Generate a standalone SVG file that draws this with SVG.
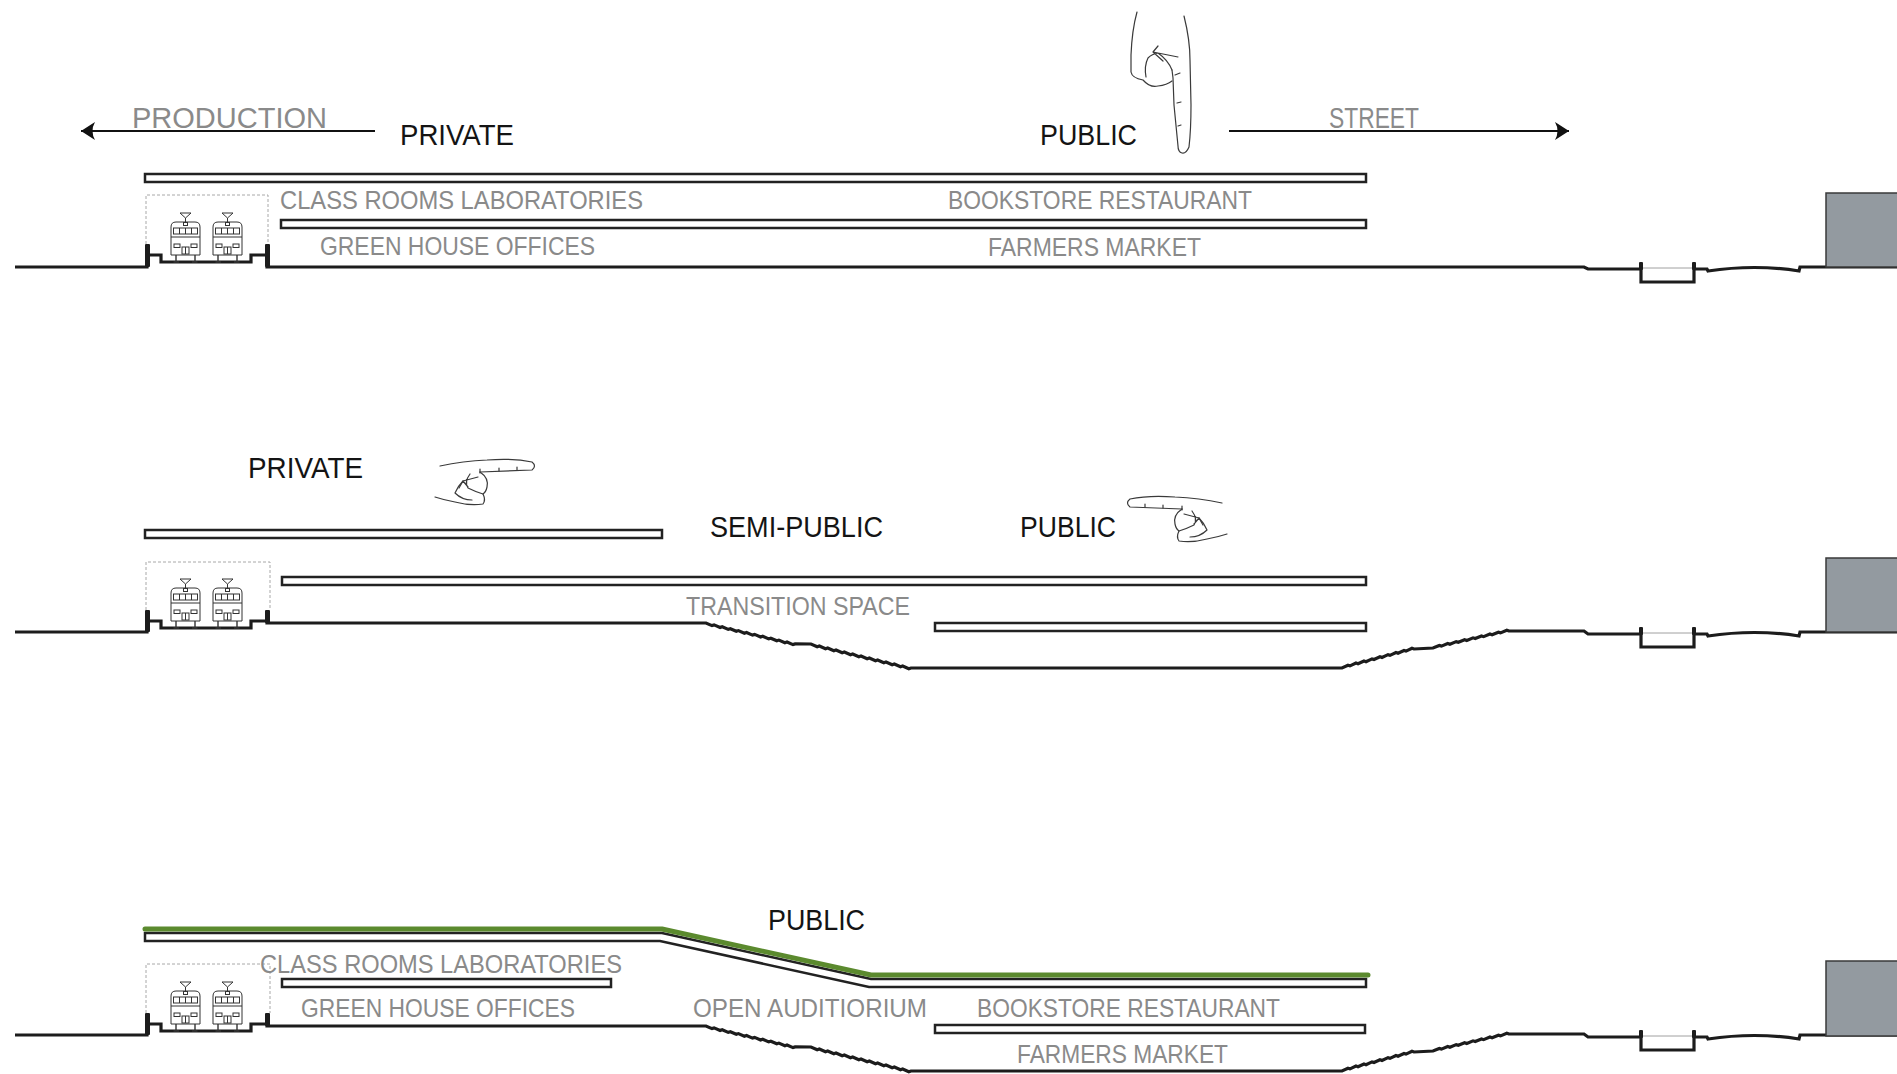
<svg xmlns="http://www.w3.org/2000/svg" xmlns:xlink="http://www.w3.org/1999/xlink" width="1897" height="1074" viewBox="0 0 1897 1074">
  <style>
    .lbl { font-family: "Liberation Sans", Arial, sans-serif; fill: #141414; font-size: 30px; }
    .sub { font-family: "Liberation Sans", Arial, sans-serif; fill: #8a8a8a; font-size: 25px; }
    .dir { font-family: "Liberation Sans", Arial, sans-serif; fill: #8a8a8a; font-size: 29px; }
    .slab { fill: #fff; stroke: #222; stroke-width: 2.5; stroke-linejoin: miter; }
    .ground { fill: none; stroke: #1c1c1c; stroke-width: 3.2; stroke-linejoin: miter; }
    .post { fill: #1c1c1c; }
    .dash { fill: none; stroke: #a8a8a8; stroke-width: 1; stroke-dasharray: 3 2; }
    .water { stroke: #a0a0a0; stroke-width: 1; }
    .bldg { fill: #939aa0; stroke: #3a3a3a; stroke-width: 1.5; }
    .hand { fill: none; stroke: #3a3a3a; stroke-width: 1.2; stroke-linecap: round; stroke-linejoin: round; }
    .roof { fill: none; stroke: #5b8a2e; stroke-width: 5; stroke-linecap: round; stroke-linejoin: round; }
    .arrow { stroke: #111; stroke-width: 2; fill: none; }
  </style>
  <defs>
    <marker id="head" viewBox="0 0 16 18" refX="15" refY="9" markerWidth="16" markerHeight="18" markerUnits="userSpaceOnUse" orient="auto">
      <path d="M15,9 L1,0 Q6,9 1,18 Z" fill="#111"/>
    </marker>
    <!-- tram seen from the front; origin = top-left of the car body -->
    <g id="train" stroke="#333" stroke-width="1" fill="#fff">
      <path d="M9,-9 H20 L14.5,-4 Z" fill="none"/>
      <path d="M14.5,-4 V0" fill="none"/>
      <path d="M0,33 V5 Q0,0 5,0 H24 Q29,0 29,5 V33 Z"/>
      <rect x="12.5" y="0.5" width="4" height="3"/>
      <rect x="2.5" y="6" width="24" height="6"/>
      <path d="M8.5,6 V12 M14.5,6 V12 M20.5,6 V12 M0,15 H29" fill="none"/>
      <rect x="3" y="22" width="6" height="3.5"/>
      <rect x="20" y="22" width="6" height="3.5"/>
      <rect x="11" y="25" width="7" height="7"/>
      <path d="M14.5,25 V32" fill="none"/>
      <path d="M5,33 V40 M24,33 V40 M2.5,40 H8 M21,40 H26.5" fill="none" stroke-width="1.4"/>
    </g>
    <!-- hand pointing to the right -->
    <g id="hand-right" class="hand">
      <path d="M440,466 Q463,461 487,460 Q513,458 532,462 Q537,466 532,470 L480,472"/>
      <path d="M480,469 L480,473 M499,468 L499,471 M517,467 L517,470"/>
      <path d="M480,472 Q489,478 487,487 Q486,492 483,494 Q486,500 483,504 Q470,506 455,502 Q444,500 435,497"/>
      <path d="M478,477 L463,481 L459,488 M463,481 L468,487 M470,474 Q464,482 468,488 Q476,492 483,494"/>
      <path d="M463,481 Q458,486 455,493 Q462,500 472,500"/>
    </g>
    <!-- ground profile with sunken auditorium steps (sections 2 and 3) -->
    <path id="terrain" class="ground" d="M15,632 H147 V621 H161 V628 H251 V621 H267 V623 H706
      l6,2.6 l2.1,-0.7 l6,2.6 l2.1,-0.7 l6,2.6 l2.1,-0.7 l6,2.6 l2.1,-0.7 l6,2.6 l2.1,-0.7 l6,2.6 l2.1,-0.7
      l6,2.6 l2.1,-0.7 l6,2.6 l2.1,-0.7 l6,2.6 l2.1,-0.7 l6,2.6 l2.1,-0.7 l6,2.6 l2.1,-0.7
      L811,644
      l6.2,2.7 l2.13,-0.7 l6.2,2.7 l2.13,-0.7 l6.2,2.7 l2.13,-0.7 l6.2,2.7 l2.13,-0.7 l6.2,2.7 l2.13,-0.7 l6.2,2.7 l2.13,-0.7
      l6.2,2.7 l2.13,-0.7 l6.2,2.7 l2.13,-0.7 l6.2,2.7 l2.13,-0.7 l6.2,2.7 l2.13,-0.7 l6.2,2.7 l2.13,-0.7 l6.2,2.7 l2.13,-0.7
      L911,668 H1342
      l6,-2.8 l2,0.69 l6,-2.8 l2,0.69 l6,-2.8 l2,0.69 l6,-2.8 l2,0.69 l6,-2.8 l2,0.69 l6,-2.8 l2,0.69 l6,-2.8 l2,0.69 l6,-2.8 l2,0.69 l6,-2.8 l2,0.69
      L1433,648
      l6.3,-2.6 l2.14,0.71 l6.3,-2.6 l2.14,0.71 l6.3,-2.6 l2.14,0.71 l6.3,-2.6 l2.14,0.71 l6.3,-2.6 l2.14,0.71 l6.3,-2.6 l2.14,0.71 l6.3,-2.6 l2.14,0.71 l6.3,-2.6 l2.14,0.71 l6.3,-2.6 l2.14,0.71
      L1509,631 H1584 L1588,634 H1641 V647 H1694 V634 H1707 L1708,636 Q1755,629 1799,636 L1800,632 H1897"/>
  </defs>

  <rect x="0" y="0" width="1897" height="1074" fill="#fff"/>

  <!-- ===================== section 1 ===================== -->
  <g id="section-1">
    <g id="s1-ground">
      <path class="ground" d="M15,267 H147 V255 H161 V262 H251 V255 H267 V267 H1584 L1588,269 H1641 V282 H1694 V269 H1707 L1708,271 Q1755,264 1799,271 L1800,267 H1897"/>
      <rect class="post" x="145" y="244" width="5" height="23" rx="1"/>
      <rect class="post" x="265" y="244" width="5" height="23" rx="1"/>
      <rect class="post" x="1639" y="262" width="4" height="8" rx="1"/>
      <rect class="post" x="1692" y="262" width="4" height="8" rx="1"/>
      <line class="water" x1="1643" y1="268" x2="1692" y2="268"/>
    </g>
    <g id="s1-station">
      <path class="dash" d="M146,244 V195 H268 V244"/>
      <use xlink:href="#train" x="171" y="222"/>
      <use xlink:href="#train" x="213" y="222"/>
    </g>
    <rect id="s1-building" class="bldg" x="1826" y="193" width="80" height="74"/>
    <rect id="s1-slab-upper" class="slab" x="145" y="174" width="1221" height="8"/>
    <rect id="s1-slab-lower" class="slab" x="281" y="220" width="1085" height="8"/>
    <g id="s1-labels">
      <text class="dir" x="132" y="128" textLength="195" lengthAdjust="spacingAndGlyphs">PRODUCTION</text>
      <text class="lbl" x="400" y="145" textLength="114" lengthAdjust="spacingAndGlyphs">PRIVATE</text>
      <text class="lbl" x="1040" y="145" textLength="97" lengthAdjust="spacingAndGlyphs">PUBLIC</text>
      <text class="dir" x="1329" y="128" textLength="90" lengthAdjust="spacingAndGlyphs">STREET</text>
      <text class="sub" x="280" y="209" textLength="363" lengthAdjust="spacingAndGlyphs">CLASS ROOMS LABORATORIES</text>
      <text class="sub" x="948" y="209" textLength="304" lengthAdjust="spacingAndGlyphs">BOOKSTORE RESTAURANT</text>
      <text class="sub" x="320" y="255" textLength="275" lengthAdjust="spacingAndGlyphs">GREEN HOUSE OFFICES</text>
      <text class="sub" x="988" y="256" textLength="213" lengthAdjust="spacingAndGlyphs">FARMERS MARKET</text>
    </g>
    <!-- hand pointing down -->
    <g id="s1-hand" class="hand">
      <path d="M1137,12 Q1132,30 1131,55 L1131,72 Q1132,78 1143,80 Q1150,88 1158,86 Q1167,85 1172,81"/>
      <path d="M1184,16 Q1190,40 1190,60 L1191,105 Q1191,130 1189,147 Q1186,154 1182,153 Q1178,152 1178,146 L1174,105 L1173,78 L1172,70"/>
      <path d="M1175,75 L1180,73 M1177,103 L1181,102 M1178,126 L1181,125"/>
      <path d="M1178,57 L1153,52 L1158,46 M1153,52 L1163,61 M1146,77 Q1144,66 1148,58 Q1152,54 1158,53 Q1168,60 1172,70"/>
    </g>
  </g>

  <!-- ===================== section 2 ===================== -->
  <g id="section-2">
    <g id="s2-ground">
      <use xlink:href="#terrain"/>
      <rect class="post" x="145" y="610" width="5" height="22" rx="1"/>
      <rect class="post" x="265" y="610" width="5" height="13" rx="1"/>
      <rect class="post" x="1639" y="627" width="4" height="8" rx="1"/>
      <rect class="post" x="1692" y="627" width="4" height="8" rx="1"/>
      <line class="water" x1="1643" y1="633" x2="1692" y2="633"/>
    </g>
    <g id="s2-station">
      <path class="dash" d="M146,610 V562 H270 V610"/>
      <use xlink:href="#train" x="171" y="588"/>
      <use xlink:href="#train" x="213" y="588"/>
    </g>
    <rect id="s2-building" class="bldg" x="1826" y="558" width="80" height="74"/>
    <rect id="s2-slab-a" class="slab" x="145" y="530" width="517" height="8"/>
    <rect id="s2-slab-b" class="slab" x="282" y="577" width="1084" height="8"/>
    <rect id="s2-slab-c" class="slab" x="935" y="623" width="431" height="8"/>
    <g id="s2-labels">
      <text class="lbl" x="248" y="478" textLength="115" lengthAdjust="spacingAndGlyphs">PRIVATE</text>
      <text class="lbl" x="710" y="537" textLength="173" lengthAdjust="spacingAndGlyphs">SEMI-PUBLIC</text>
      <text class="lbl" x="1020" y="537" textLength="96" lengthAdjust="spacingAndGlyphs">PUBLIC</text>
      <text class="sub" x="686" y="615" textLength="224" lengthAdjust="spacingAndGlyphs">TRANSITION SPACE</text>
    </g>
    <use id="s2-hand-right" xlink:href="#hand-right"/>
    <use id="s2-hand-left" xlink:href="#hand-right" transform="translate(1662,37) scale(-1,1)"/>
  </g>

  <!-- ===================== section 3 ===================== -->
  <g id="section-3">
    <g id="s3-ground" transform="translate(0,403)">
      <use xlink:href="#terrain"/>
      <rect class="post" x="145" y="610" width="5" height="22" rx="1"/>
      <rect class="post" x="265" y="610" width="5" height="13" rx="1"/>
      <rect class="post" x="1639" y="627" width="4" height="8" rx="1"/>
      <rect class="post" x="1692" y="627" width="4" height="8" rx="1"/>
      <line class="water" x1="1643" y1="633" x2="1692" y2="633"/>
    </g>
    <g id="s3-station">
      <path class="dash" d="M146,1013 V964 H270 V1013"/>
      <use xlink:href="#train" x="171" y="991"/>
      <use xlink:href="#train" x="213" y="991"/>
    </g>
    <rect id="s3-building" class="bldg" x="1826" y="961" width="80" height="75"/>
    <g id="s3-green-roof">
      <polygon class="slab" points="145,933 662,933 871,979 1366,979 1366,987 869,987 660,941 145,941"/>
      <polyline class="roof" points="145,929 662,929 871,975 1368,975"/>
    </g>
    <rect id="s3-slab-small" class="slab" x="282" y="979" width="329" height="8"/>
    <rect id="s3-slab-lower" class="slab" x="935" y="1025" width="430" height="8"/>
    <g id="s3-labels">
      <text class="lbl" x="768" y="930" textLength="97" lengthAdjust="spacingAndGlyphs">PUBLIC</text>
      <text class="sub" x="260" y="973" textLength="362" lengthAdjust="spacingAndGlyphs">CLASS ROOMS LABORATORIES</text>
      <text class="sub" x="301" y="1017" textLength="274" lengthAdjust="spacingAndGlyphs">GREEN HOUSE OFFICES</text>
      <text class="sub" x="693" y="1017" textLength="234" lengthAdjust="spacingAndGlyphs">OPEN AUDITIORIUM</text>
      <text class="sub" x="977" y="1017" textLength="303" lengthAdjust="spacingAndGlyphs">BOOKSTORE RESTAURANT</text>
      <text class="sub" x="1017" y="1063" textLength="211" lengthAdjust="spacingAndGlyphs">FARMERS MARKET</text>
    </g>
  </g>

  <!-- direction arrows -->
  <g id="connectors">
    <line class="arrow" x1="375" y1="131" x2="81" y2="131" marker-end="url(#head)"/>
    <line class="arrow" x1="1229" y1="131" x2="1569" y2="131" marker-end="url(#head)"/>
  </g>
</svg>
